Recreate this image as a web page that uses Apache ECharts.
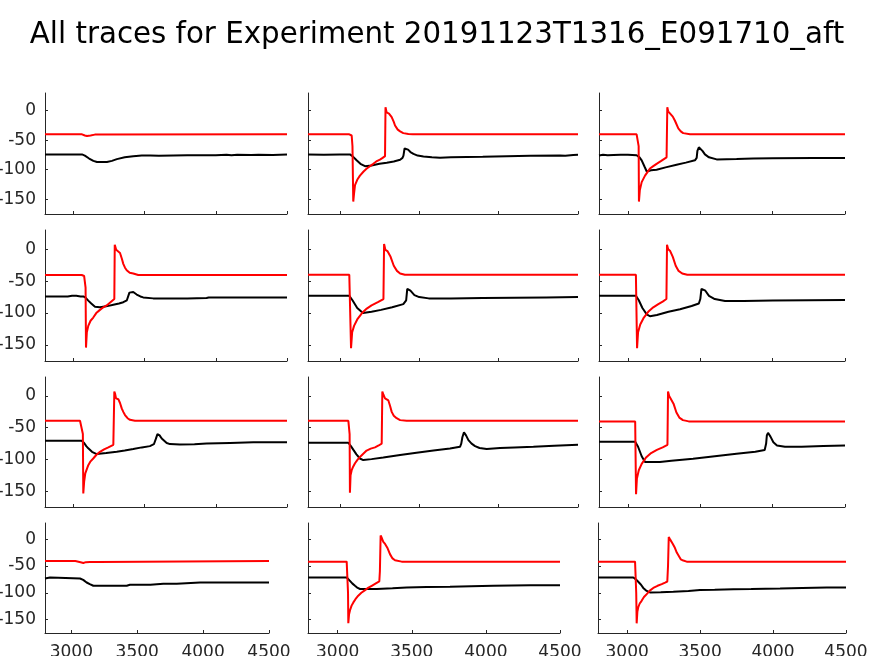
<!DOCTYPE html>
<html>
<head>
<meta charset="utf-8">
<script src="https://cdn.jsdelivr.net/npm/echarts@6/dist/echarts.min.js"></script>
<style>html,body{margin:0;padding:0;background:#fff}#c{width:874px;height:656px}</style>
</head>
<body>
<div id="c"></div>
<script>
const titleText = "All traces for Experiment 20191123T1316_E091710_aft";
const xTicks = [3000, 3500, 4000, 4500];
const yTicks = [-150, -100, -50, 0];
const xRange = [2800, 4500];
const yRange = [-175, 30];

// Panel traces: [time, value]
const black1 = [[2800,-74],[3060,-74],[3080,-76],[3110,-81],[3140,-85],[3165,-87],[3235,-87],[3270,-85],[3305,-82],[3360,-79],[3420,-77],[3480,-76],[3540,-76],[3600,-76.5],[3700,-76],[3800,-75.5],[3900,-75.5],[4000,-75.5],[4075,-74.5],[4110,-75.5],[4150,-74.5],[4250,-75],[4300,-74.5],[4400,-75],[4500,-74]];
const red1 = [[2800,-40],[3060,-40],[3080,-42],[3095,-43],[3120,-42],[3150,-40.5],[4500,-40]];

const black2 = [[2800,-74],[2900,-74.5],[3000,-74],[3064,-74],[3080,-77],[3106,-84],[3130,-90],[3159,-94],[3200,-93],[3250,-90],[3296,-88],[3340,-86],[3380,-83],[3395,-80],[3401,-76],[3408,-64],[3418,-63],[3430,-66],[3445,-70],[3464,-73],[3490,-76],[3527,-77.5],[3580,-79],[3631,-79.5],[3700,-79],[3800,-78.5],[3900,-78],[4051,-77],[4200,-76.5],[4387,-76],[4420,-76.5],[4470,-75],[4500,-74.5]];
const red2 = [[2800,-40],[3060,-40],[3075,-42],[3080,-60],[3085,-154],[3090,-140],[3096,-126],[3110,-117],[3127,-110],[3150,-103],[3170,-98],[3190,-94],[3211,-90],[3230,-86],[3253,-83],[3270,-80],[3285,-77],[3288,6],[3295,-3],[3310,-5],[3327,-11],[3340,-19],[3348,-25],[3365,-32],[3380,-35],[3400,-38],[3432,-39.5],[3460,-40],[4500,-40]];

const black3 = [[2800,-76],[2828,-74.5],[2860,-75.5],[2900,-75],[2950,-74.5],[3000,-74.5],[3030,-75],[3060,-75.5],[3080,-79],[3095,-84],[3115,-95],[3130,-103],[3160,-101],[3198,-100],[3260,-96],[3336,-91.5],[3400,-88],[3463,-84],[3475,-80],[3480,-68],[3490,-62],[3500,-63],[3515,-68],[3532,-74],[3560,-79],[3613,-82.5],[3751,-82],[3866,-81],[4000,-80.5],[4281,-80],[4500,-80]];
const red3 = [[2800,-40],[3060,-40],[3070,-42],[3074,-60],[3076,-154],[3082,-135],[3095,-121],[3118,-110],[3135,-104],[3152,-98],[3175,-94],[3198,-90],[3230,-85],[3267,-79],[3272,6],[3278,-1],[3290,-3],[3310,-10],[3325,-17],[3348,-30],[3365,-35],[3382,-38],[3429,-40],[4500,-40]];

const black4 = [[2800,-74],[2960,-74],[2990,-73],[3020,-73],[3050,-74],[3069,-74],[3085,-76],[3104,-80.5],[3125,-85],[3151,-90],[3186,-91],[3230,-89.5],[3280,-87],[3320,-85],[3350,-83],[3375,-80],[3385,-78],[3393,-68],[3404,-65],[3420,-67],[3444,-71],[3470,-74],[3490,-75.5],[3560,-77],[3700,-77],[3800,-77],[3935,-76.5],[3950,-75.5],[4100,-75.5],[4300,-75.5],[4500,-75.5]];
const red4 = [[2800,-40.5],[3058,-40.5],[3075,-42],[3085,-60],[3088,-154],[3094,-130],[3104,-120],[3120,-112],[3139,-107],[3160,-100],[3186,-95],[3210,-91],[3233,-88],[3260,-83],[3287,-78],[3290,7],[3300,-1],[3308,-2],[3327,-6],[3340,-15],[3350,-23],[3362,-29],[3374,-33],[3395,-37],[3420,-38],[3455,-40.5],[4500,-40.5]];

const black5 = [[2800,-73],[3060,-73],[3080,-80],[3110,-92],[3146,-100],[3200,-98],[3260,-95],[3330,-91],[3400,-86],[3418,-80],[3425,-62],[3432,-60],[3445,-65],[3470,-72],[3500,-75],[3560,-77],[3700,-77],[3900,-76.5],[4100,-76],[4300,-75.5],[4500,-75]];
const red5 = [[2800,-40],[3060,-40],[3068,-43],[3071,-155],[3078,-130],[3090,-120],[3110,-110],[3140,-100],[3170,-93],[3200,-88],[3240,-83],[3275,-78],[3279,8],[3287,-1],[3300,-3],[3320,-12],[3340,-26],[3360,-34],[3380,-38],[3410,-40],[4500,-40]];

const black6 = [[2800,-73],[3055,-73],[3075,-80],[3100,-92],[3130,-102],[3152,-105],[3200,-103],[3280,-98],[3360,-94],[3440,-89],[3490,-85],[3500,-78],[3508,-62],[3519,-60],[3535,-65],[3560,-73],[3600,-78],[3671,-81],[3800,-81],[4000,-80.5],[4250,-80],[4500,-79.5]];
const red6 = [[2800,-40],[3055,-40],[3060,-43],[3063,-155],[3070,-130],[3085,-118],[3110,-107],[3140,-98],[3175,-91],[3210,-86],[3240,-82],[3266,-78],[3270,7],[3278,0],[3292,-3],[3310,-12],[3330,-26],[3350,-34],[3375,-38],[3410,-40],[4500,-40]];

const black7 = [[2800,-70.5],[3058,-70.5],[3075,-74],[3090,-79],[3104,-82.5],[3130,-88],[3163,-91.5],[3230,-90],[3304,-88],[3360,-86],[3420,-83.7],[3480,-81],[3537,-79],[3565,-76],[3578,-68],[3590,-60],[3605,-62],[3620,-67],[3631,-69.5],[3655,-74],[3678,-75.8],[3748,-76.6],[3850,-76],[3935,-75],[4100,-74],[4263,-73],[4350,-73],[4450,-73],[4500,-73]];
const red7 = [[2800,-39],[3046,-39],[3060,-42],[3066,-60],[3069,-153.6],[3075,-135],[3083,-122],[3104,-109],[3120,-103],[3139,-98.5],[3160,-93],[3186,-88],[3215,-84],[3245,-81],[3280,-77],[3287,7],[3293,3],[3299,-3.7],[3315,-5],[3327,-11],[3339,-19.5],[3350,-25],[3362,-30],[3380,-35],[3397,-37.5],[3432,-39],[4500,-39]];

const black8 = [[2800,-73.7],[3054,-73.7],[3070,-79],[3086,-85],[3105,-92],[3127,-98.5],[3148,-101],[3200,-99.5],[3274,-97],[3380,-93],[3483,-89.5],[3590,-86],[3694,-82.6],[3757,-80],[3765,-75],[3772,-65],[3782,-57.4],[3795,-62],[3810,-69.5],[3830,-75],[3852,-79],[3880,-82],[3925,-83.7],[4009,-82],[4100,-81],[4219,-80],[4350,-78.5],[4500,-77]];
const red8 = [[2800,-39],[3054,-39],[3060,-41],[3062,-60],[3064,-152.5],[3068,-125],[3075,-117],[3085,-111],[3096,-106],[3110,-101],[3127,-96],[3148,-91],[3169,-86],[3195,-83],[3222,-81],[3245,-78],[3264,-75],[3268,7],[3275,2],[3285,-3.7],[3306,-7],[3316,-15],[3327,-25],[3340,-31],[3358,-35],[3380,-38],[3421,-39],[4500,-39]];

const black9 = [[2800,-72],[3050,-72],[3070,-80],[3095,-95],[3118,-104],[3221,-104],[3300,-102],[3450,-99],[3600,-95],[3750,-91],[3880,-88],[3945,-85],[3955,-75],[3960,-62],[3968,-58],[3985,-64],[4005,-73],[4030,-78],[4085,-80],[4200,-80],[4350,-79],[4500,-78]];
const red9 = [[2800,-40],[3050,-40],[3053,-43],[3056,-155],[3062,-130],[3075,-117],[3095,-107],[3125,-97],[3160,-90],[3200,-85],[3240,-81],[3273,-77],[3277,7],[3285,0],[3298,-3],[3315,-12],[3335,-26],[3355,-34],[3380,-38],[3420,-40],[4500,-40]];

const black10 = [[2800,-73.5],[2838,-71.6],[2900,-72],[2914,-73.5],[3066,-73.5],[3090,-76],[3116,-80.9],[3140,-84],[3167,-87],[3300,-87],[3420,-87],[3445,-85],[3600,-85],[3698,-83.3],[3800,-83],[3977,-80.9],[4200,-81],[4500,-81]];
const red10 = [[2800,-40.7],[3030,-40.7],[3040,-42.5],[3070,-43],[3091,-44.5],[3110,-43],[3141,-42.5],[3200,-42.5],[3212,-40.7],[4500,-40.7]];

const black11 = [[2800,-71.6],[3061,-71.6],[3083,-77.8],[3100,-83],[3117,-87],[3135,-91],[3151,-93],[3263,-93],[3370,-91.5],[3466,-90],[3600,-89.5],[3758,-89],[3900,-88],[4050,-87],[4300,-86],[4500,-85.8]];
const red11 = [[2800,-42],[3061,-42],[3068,-45],[3070,-100],[3072,-156.8],[3077,-140],[3083,-133],[3094,-124],[3106,-118],[3120,-112],[3139,-105.5],[3160,-100],[3185,-95],[3205,-91],[3230,-87],[3255,-83],[3281,-79],[3285,-60],[3290,6.8],[3298,2],[3308,-5],[3320,-9],[3335,-16],[3353,-28],[3370,-36],[3387,-39.5],[3432,-42],[4500,-42]];

const black12 = [[2800,-71.6],[3042,-71.6],[3060,-75],[3076,-79.6],[3095,-85],[3110,-91],[3130,-96],[3156,-99.4],[3230,-99],[3316,-98],[3420,-96.5],[3499,-95],[3600,-94.5],[3728,-93.5],[3850,-93],[4048,-92],[4200,-91],[4368,-90],[4500,-90]];
const red12 = [[2800,-42],[3054,-42],[3060,-45],[3062,-100],[3065,-157],[3070,-135],[3076,-127],[3086,-120],[3099,-115],[3115,-108],[3134,-102.5],[3155,-96],[3179,-91],[3208,-87],[3237,-84],[3260,-81],[3275,-79],[3280,-50],[3285,4],[3295,-1],[3312,-8.6],[3325,-15],[3340,-25],[3355,-32],[3367,-37.6],[3385,-40],[3408,-42],[4500,-42]];

const blacks = [black1,black2,black3,black4,black5,black6,black7,black8,black9,black10,black11,black12];
const reds = [red1,red2,red3,red4,red5,red6,red7,red8,red9,red10,red11,red12];

// Layout (pixel boxes)
const rowsY = [[93,214],[230,361],[377,507],[523,633]];
const colsX = [[45,287],[308,578],[599,845]];
const colsXLast = [[45,269],[308,560],[598,846]];

const axisColor = '#262626';
const font = 'DejaVu Sans';
const plain = v => String(v);
const grids = [], xAxes = [], yAxes = [], series = [];
for (let i = 0; i < 12; i++) {
  const r = Math.floor(i / 3), c = i % 3;
  const cx = (r === 3 ? colsXLast : colsX)[c];
  const ry = rowsY[r];
  grids.push({left: cx[0], top: ry[0], width: cx[1]-cx[0], height: ry[1]-ry[0], containLabel: false, outerBoundsMode: 'none'});
  xAxes.push({
    gridIndex: i, type: 'value', min: xRange[0], max: xRange[1],
    axisLine: {show: true, onZero: false, lineStyle: {color: axisColor, width: 1}},
    axisTick: {show: true, inside: true, length: 3, customValues: xTicks, lineStyle: {color: axisColor}},
    axisLabel: {show: r === 3, customValues: xTicks, formatter: plain, margin: 11, fontSize: 17, color: axisColor, fontFamily: font},
    splitLine: {show: false}
  });
  yAxes.push({
    gridIndex: i, type: 'value', min: yRange[0], max: yRange[1],
    axisLine: {show: true, onZero: false, lineStyle: {color: axisColor, width: 1}},
    axisTick: {show: true, inside: true, length: 3, customValues: yTicks, lineStyle: {color: axisColor}},
    axisLabel: {show: c === 0, customValues: yTicks, formatter: plain, margin: 9, fontSize: 17, color: axisColor, fontFamily: font},
    splitLine: {show: false}
  });
  series.push({type: 'line', xAxisIndex: i, yAxisIndex: i, data: blacks[i], showSymbol: false, symbol: 'none',
    lineStyle: {color: '#000000', width: 2}, silent: true});
  series.push({type: 'line', xAxisIndex: i, yAxisIndex: i, data: reds[i], showSymbol: false, symbol: 'none',
    lineStyle: {color: '#ff0000', width: 2}, silent: true});
}

const chart = echarts.init(document.getElementById('c'), null, {renderer: 'canvas'});
chart.setOption({
  animation: false,
  backgroundColor: '#ffffff',
  title: {text: titleText, left: 'center', top: 16,
    textStyle: {fontFamily: font, fontSize: 29.3, fontWeight: 'normal', color: '#000000'}},
  grid: grids, xAxis: xAxes, yAxis: yAxes, series: series
});
</script>
</body>
</html>
